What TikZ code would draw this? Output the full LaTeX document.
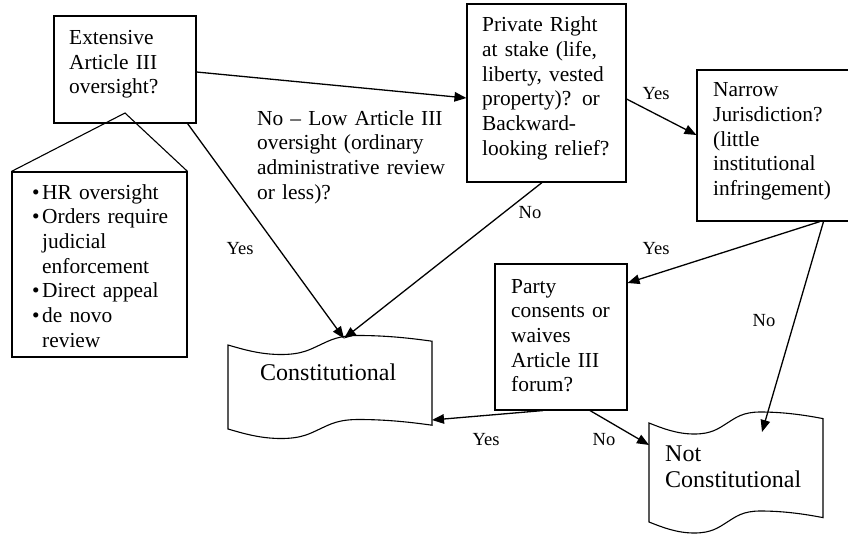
\documentclass[tikz,border=0pt]{standalone}
\usepackage{fontspec}
\setmainfont{Liberation Serif}
\usetikzlibrary{arrows.meta,calc}
\tikzset{
  box/.style={draw=black, line width=1.1pt, rectangle, inner sep=0pt},
  boxline/.style={draw=black, line width=1.1pt},
  txt/.style={anchor=base west, inner sep=0pt, align=left, text width=230pt, font=\fontsize{21.4}{24.7}\selectfont},
  big/.style={anchor=base west, inner sep=0pt, align=left, text width=230pt, font=\fontsize{24}{26.5}\selectfont},
  lbl/.style={inner sep=0pt, font=\fontsize{18.5}{21}\selectfont},
  conn/.style={draw=black, line width=1.3pt, -{Triangle[length=12pt,width=9.5pt]}},
}
% wavy tape: x0, y of top-left corner, width, y of bottom-left corner, wave amplitude
\newcommand{\mytape}[5]{%
  \draw[boxline] (#1,#2)
    .. controls ({#1+0.08*#3},{#2+0.5*#5}) and ({#1+0.16*#3},{#2+#5}) .. ({#1+0.26*#3},{#2+#5})
    .. controls ({#1+0.36*#3},{#2+#5}) and ({#1+0.40*#3},{#2+0.5*#5}) .. ({#1+0.45*#3},{#2})
    .. controls ({#1+0.50*#3},{#2-0.5*#5}) and ({#1+0.54*#3},{#2-#5}) .. ({#1+0.64*#3},{#2-#5})
    .. controls ({#1+0.78*#3},{#2-#5}) and ({#1+0.90*#3},{#2-0.7*#5}) .. ({#1+#3},{#2-0.4*#5})
    -- ({#1+#3},{#4-0.4*#5})
    .. controls ({#1+0.90*#3},{#4-0.7*#5}) and ({#1+0.78*#3},{#4-#5}) .. ({#1+0.64*#3},{#4-#5})
    .. controls ({#1+0.54*#3},{#4-#5}) and ({#1+0.50*#3},{#4-0.5*#5}) .. ({#1+0.45*#3},{#4})
    .. controls ({#1+0.40*#3},{#4+0.5*#5}) and ({#1+0.36*#3},{#4+#5}) .. ({#1+0.26*#3},{#4+#5})
    .. controls ({#1+0.16*#3},{#4+#5}) and ({#1+0.08*#3},{#4+0.5*#5}) .. (#1,#4)
    -- cycle;%
}
\begin{document}
\begin{tikzpicture}[x=1pt,y=-1pt]
\useasboundingbox (0,0) rectangle (848,535);

% boxes
\node[box, minimum width=142pt, minimum height=107pt] (A) at (125,69.5) {};
\node[box, minimum width=175pt, minimum height=185pt] (E) at (99.5,264.5) {};
\node[box, minimum width=159pt, minimum height=178pt] (B) at (546.5,93) {};
\node[box, minimum width=157pt, minimum height=151pt] (C) at (775.5,145.5) {};
\node[box, minimum width=132pt, minimum height=146pt] (D) at (561,337) {};

% callout pointer
\coordinate (apex) at (125,113);
\draw[boxline] (E.north west) -- (apex) -- (E.north east);

% tapes
\mytape{228}{345}{204}{429}{9.5}
\mytape{649}{423}{174}{522}{11}

% texts
\node[txt] (Atxt) at (69,44.5) {Extensive\\Article III\\oversight?};
\node[txt] (Btxt) at (482,31.7) {Private Right\\at stake (life,\\liberty, vested\\property)? or\\Backward-\\looking relief?};
\node[txt] (Ctxt) at (713,96.7) {Narrow\\Jurisdiction?\\(little\\institutional\\infringement)};
\node[txt] (Dtxt) at (511,293) {Party\\consents or\\waives\\Article III\\forum?};
\node[txt] (lowtxt) at (257,125) {No -- Low Article III\\oversight (ordinary\\administrative review\\or less)?};
\node[txt] (Etxt) at (32,199) {\makebox[10pt][l]{\textbullet}HR oversight\\
\makebox[10pt][l]{\textbullet}Orders require\\
\hspace*{10pt}judicial\\
\hspace*{10pt}enforcement\\
\makebox[10pt][l]{\textbullet}Direct appeal\\
\makebox[10pt][l]{\textbullet}de novo\\
\hspace*{10pt}review};
\node[big] (con) at (260,380) {Constitutional};
\node[big] (nc) at (665,461) {Not\\Constitutional};

% connector end points on the tapes
\coordinate (conTop) at (344,338.5);
\coordinate (conRight) at (432,420);
\coordinate (ncTop) at (762,432);
\coordinate (ncLeft) at (649,445);

% connectors
\draw[conn] ($(A.east)+(0,2.5)$) -- ($(B.west)+(0,5)$);
\draw[conn] ($(A.south east)+(-9,0)$) -- (conTop);
\draw[conn] ($(B.south)+(-4.5,0)$) -- (conTop);
\draw[conn] ($(B.east)+(0,6)$) -- ($(C.west)+(0,-10.5)$);
\draw[conn] ($(C.south)+(44.5,0)$) -- ($(D.east)+(0,-54)$);
\draw[conn] ($(C.south)+(48,0)$) -- (ncTop);
\draw[conn] ($(D.south)+(-18,0)$) -- (conRight);
\draw[conn] ($(D.south)+(29,0)$) -- (ncLeft);

% labels
\node[lbl] (l1) at (240,249) {Yes};
\node[lbl] (l2) at (530,213) {No};
\node[lbl] (l3) at (656,94) {Yes};
\node[lbl] (l4) at (656,249) {Yes};
\node[lbl] (l5) at (764,321) {No};
\node[lbl] (l6) at (486,440) {Yes};
\node[lbl] (l7) at (604,440) {No};
\end{tikzpicture}
\end{document}
